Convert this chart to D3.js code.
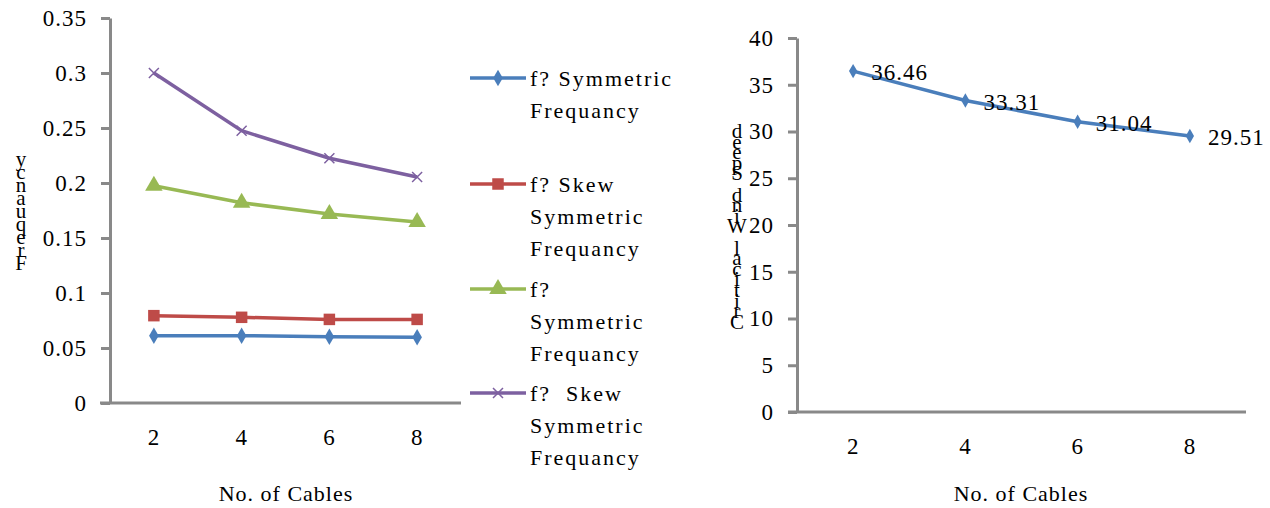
<!DOCTYPE html>
<html>
<head>
<meta charset="utf-8">
<script src="https://cdn.jsdelivr.net/npm/d3@7"></script>
<style>
  body { margin: 0; background: #fff; }
  text { font-family: 'Liberation Serif', 'Times New Roman', serif; fill: #000; }
</style>
</head>
<body>
<div id="chart"></div>
<script>
// data
const cables = ['2', '4', '6', '8']
const symFreq = [0.0612, 0.0612, 0.0602, 0.0597]
const skewFreq = [0.0794, 0.0779, 0.0760, 0.0760]
const symFreq2 = [0.1975, 0.1820, 0.1718, 0.1645]
const skewFreq2 = [0.3000, 0.2475, 0.2225, 0.2055]
const windSpeed = [36.46, 33.31, 31.04, 29.51]
const leftTicks = [0, 0.05, 0.1, 0.15, 0.2, 0.25, 0.3, 0.35]
const rightTicks = [0, 5, 10, 15, 20, 25, 30, 35, 40]
const legendNames = [
  ['f? Symmetric', 'Frequancy'],
  ['f? Skew', 'Symmetric', 'Frequancy'],
  ['f?', 'Symmetric', 'Frequancy'],
  ['f?  Skew', 'Symmetric', 'Frequancy']
]

const width = 1270
const height = 508
const axisColor = '#898989'
const fontSize = '22px'
const spacing = '1px'

const svg = d3.select('#chart')
  .append('svg')
  .attr('width', width)
  .attr('height', height)

const series = [
  { values: symFreq, color: '#4a7ebb', marker: 'diamond' },
  { values: skewFreq, color: '#be4b48', marker: 'square' },
  { values: symFreq2, color: '#98b954', marker: 'triangle' },
  { values: skewFreq2, color: '#7d60a0', marker: 'cross' }
]

function drawMarker (g, type, x, y, color, size) {
  if (type === 'cross') {
    const s = size / 2
    g.append('path')
      .attr('d', `M${x - s},${y - s}L${x + s},${y + s}M${x - s},${y + s}L${x + s},${y - s}`)
      .attr('stroke', color)
      .attr('stroke-width', 1.5)
  } else {
    const sym = { diamond: d3.symbolDiamond, square: d3.symbolSquare, triangle: d3.symbolTriangle }[type]
    const area = type === 'diamond' ? size * size * 0.6 : size * size
    g.append('path')
      .attr('d', d3.symbol(sym, area)())
      .attr('transform', `translate(${x},${y})`)
      .attr('fill', color)
  }
}

function styleAxis (g) {
  g.select('.domain').attr('stroke', axisColor).attr('stroke-width', 3)
  g.selectAll('.tick line').attr('stroke', axisColor).attr('stroke-width', 3)
  g.selectAll('.tick text')
    .attr('fill', '#000')
    .style('font-family', "'Liberation Serif', serif")
    .style('font-size', '23px')
    .style('letter-spacing', spacing)
}

function verticalTitle (text, x, yTop, step) {
  const letters = text.split('').reverse()
  svg.append('g').selectAll('text')
    .data(letters)
    .join('text')
    .attr('x', x)
    .attr('y', (d, i) => yTop + i * step)
    .attr('text-anchor', 'middle')
    .style('font-size', '21px')
    .text(d => d)
}

// left chart
const x1 = d3.scaleBand().domain(cables).range([110, 461])
const y1 = d3.scaleLinear().domain([0, 0.35]).range([403, 18])

svg.append('g')
  .attr('transform', 'translate(0,403)')
  .call(d3.axisBottom(x1).tickSize(0).tickPadding(26).tickSizeOuter(0))
  .call(styleAxis)
  .call(g => g.select('.domain').attr('d', 'M100,0H461'))

svg.append('g')
  .attr('transform', 'translate(110,0)')
  .call(d3.axisLeft(y1).tickValues(leftTicks).tickSize(9).tickPadding(14).tickSizeOuter(0)
    .tickFormat(d => d === 0 ? '0' : String(+d.toFixed(2))))
  .call(styleAxis)

const line1 = d3.line()
  .x((d, i) => x1(cables[i]) + x1.bandwidth() / 2)
  .y(d => y1(d))

series.forEach(s => {
  svg.append('path')
    .datum(s.values)
    .attr('d', line1)
    .attr('fill', 'none')
    .attr('stroke', s.color)
    .attr('stroke-width', 3.5)
  const mg = svg.append('g')
  s.values.forEach((v, i) => {
    drawMarker(mg, s.marker, x1(cables[i]) + x1.bandwidth() / 2, y1(v), s.color, s.marker === 'cross' ? 10 : 11.5)
  })
})

svg.append('text')
  .attr('x', 286)
  .attr('y', 501)
  .attr('text-anchor', 'middle')
  .style('font-size', fontSize)
  .style('letter-spacing', spacing)
  .text('No. of Cables')

verticalTitle('Frequancy', 21, 166, 13)

// legend
const legendY = [78, 184, 289, 393]
series.forEach((s, i) => {
  const g = svg.append('g')
  g.append('line')
    .attr('x1', 470).attr('x2', 526)
    .attr('y1', legendY[i]).attr('y2', legendY[i])
    .attr('stroke', s.color)
    .attr('stroke-width', 3.5)
  drawMarker(g, s.marker, 498, legendY[i], s.color, s.marker === 'cross' ? 10 : 11.5)
  g.selectAll('text.lg')
    .data(legendNames[i])
    .join('text')
    .attr('x', 530)
    .attr('y', (d, j) => legendY[i] + 8 + j * 32)
    .style('font-size', fontSize)
    .style('letter-spacing', '2px')
    .style('white-space', 'pre')
    .text(d => d)
})

// right chart
const x2 = d3.scaleBand().domain(cables).range([797, 1246])
const y2 = d3.scaleLinear().domain([0, 40]).range([412, 38])

svg.append('g')
  .attr('transform', 'translate(0,412)')
  .call(d3.axisBottom(x2).tickSize(0).tickPadding(26).tickSizeOuter(0))
  .call(styleAxis)
  .call(g => g.select('.domain').attr('d', 'M788,0H1246'))

svg.append('g')
  .attr('transform', 'translate(797,0)')
  .call(d3.axisLeft(y2).tickValues(rightTicks).tickSize(9).tickPadding(14).tickSizeOuter(0))
  .call(styleAxis)

const line2 = d3.line()
  .x((d, i) => x2(cables[i]) + x2.bandwidth() / 2)
  .y(d => y2(d))

svg.append('path')
  .datum(windSpeed)
  .attr('d', line2)
  .attr('fill', 'none')
  .attr('stroke', '#4a7ebb')
  .attr('stroke-width', 3.5)

const mg2 = svg.append('g')
windSpeed.forEach((v, i) => {
  const cx = x2(cables[i]) + x2.bandwidth() / 2
  drawMarker(mg2, 'diamond', cx, y2(v), '#4a7ebb', 10)
  svg.append('text')
    .attr('x', cx + 18)
    .attr('y', y2(v) + 9)
    .style('font-size', '23px')
    .style('letter-spacing', spacing)
    .text(v.toFixed(2))
})

svg.append('text')
  .attr('x', 1021)
  .attr('y', 501)
  .attr('text-anchor', 'middle')
  .style('font-size', fontSize)
  .style('letter-spacing', spacing)
  .text('No. of Cables')

verticalTitle('Critical Wind Speed', 737, 138, 10.6)
</script>
</body>
</html>
